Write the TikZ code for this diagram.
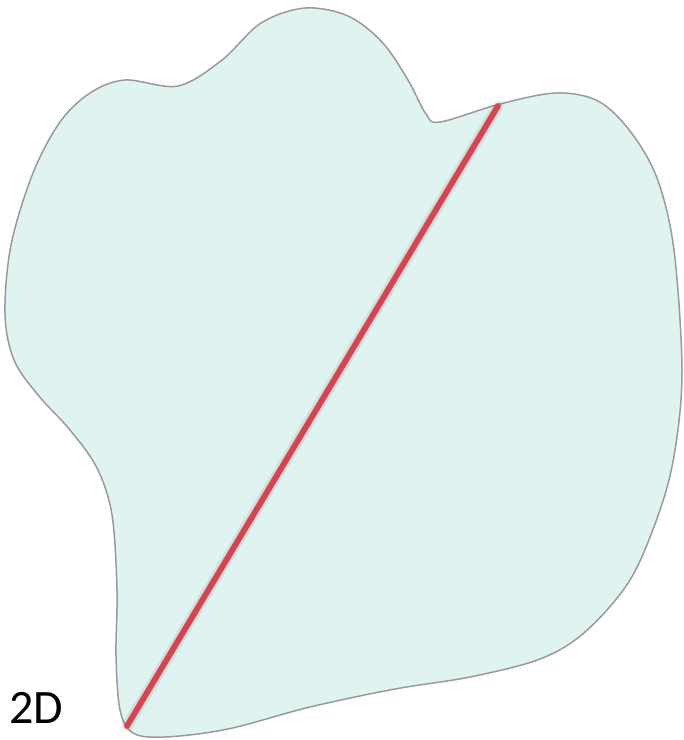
\documentclass[tikz,border=0pt]{standalone}
\usepackage{fontspec}
\setmainfont{Carlito}
\definecolor{regionfill}{HTML}{DFF4F1}
\definecolor{regionedge}{HTML}{9A9A9A}
\definecolor{chordred}{HTML}{D8434F}
\begin{document}
\begin{tikzpicture}[x=1pt,y=-1pt,
  region/.style={fill=regionfill,draw=regionedge,line width=1.5pt},
  chordshadow/.style={draw=black,opacity=0.08,line width=11pt,line cap=round},
  chord/.style={draw=chordred,line width=5.8pt,line cap=round},
  lbl/.style={font=\fontsize{48}{48}\selectfont,inner sep=0pt,anchor=base west}]
\useasboundingbox (0,0) rectangle (684,740);
\draw[region] plot[smooth cycle,tension=0.55] coordinates {
 (5,314) (11,245) (33,173) (60,122) (90,93) (125,80) (178,86)
 (222,60) (261,23) (305,8) (348,16) (382,42) (408,80) (426,114) (440,122)
 (500,104) (556,93) (598,101) (630,131) (657,178) (674,250)
 (682,370) (675,450) (660,510) (630,580) (585,632) (540,659)
 (470,677) (395,689) (310,707) (228,729) (165,737) (133,733)
 (120,710) (116,655) (117,590) (112,515) (97,468) (70,430)
 (38,395) (14,360)};
\coordinate (top) at (498,106);
\coordinate (bot) at (127,726);
\draw[chordshadow] (bot) -- (top);
\draw[chord] (bot) -- (top);
\node[lbl] (dim) at (9,723) {2D};
\end{tikzpicture}
\end{document}
